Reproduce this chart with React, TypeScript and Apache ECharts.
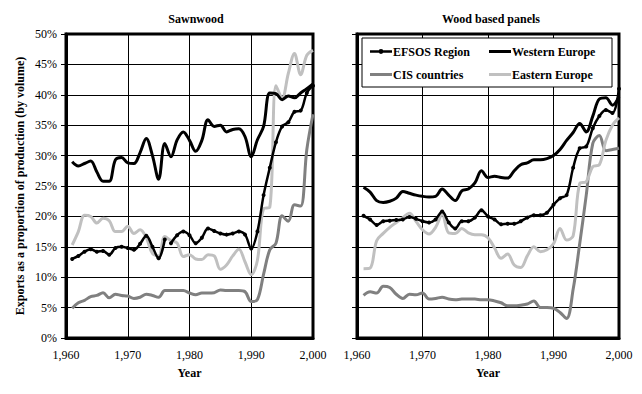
import React, { useEffect, useRef } from "react";
import * as echarts from "echarts";

const years = [
  1961, 1962, 1963, 1964, 1965, 1966, 1967, 1968, 1969, 1970,
  1971, 1972, 1973, 1974, 1975, 1976, 1977, 1978, 1979, 1980,
  1981, 1982, 1983, 1984, 1985, 1986, 1987, 1988, 1989, 1990,
  1991, 1992, 1993, 1994, 1995, 1996, 1997, 1998, 1999, 2000,
];

const seriesNames = ["EFSOS Region", "Western Europe", "CIS countries", "Eastern Europe"];

// Sawnwood
const sawEFSOS = [
  13.0, 13.5, 14.2, 14.6, 14.2, 14.3, 13.7, 14.8, 15.0, 14.8,
  14.5, 15.5, 16.8, 15.0, 13.1, 16.2, 15.6, 16.9, 17.5, 16.9,
  15.6, 16.5, 18.0, 17.6, 17.2, 17.0, 17.2, 17.5, 17.0, 14.7,
  17.5, 23.5, 28.0, 32.2, 34.8, 35.5, 37.2, 37.4, 40.3, 41.5,
];
const sawEFSOSGapAfter = 1976;
const sawWestern = [
  29.0, 28.3, 28.7, 29.1, 27.3, 25.8, 25.8, 29.3, 29.7, 28.8,
  28.7, 30.5, 32.8, 30.0, 26.1, 32.0, 29.8, 32.6, 33.9, 32.5,
  30.7, 32.5, 35.9, 34.8, 35.0, 33.9, 34.3, 34.4, 33.1, 29.8,
  32.6, 34.8, 40.3, 40.2, 39.2, 39.8, 39.5, 40.3, 41.0, 41.8,
];
const sawCIS = [
  4.9, 5.8, 6.2, 6.8, 7.0, 7.45, 6.6, 7.2, 7.0, 6.9,
  6.5, 6.7, 7.2, 7.0, 6.7, 7.8, 7.8, 7.8, 7.8, 7.4,
  7.1, 7.4, 7.4, 7.45, 7.9, 7.8, 7.8, 7.8, 7.6, 6.0,
  6.3, 10.5, 14.5, 15.6, 20.1, 19.2, 21.9, 21.7, 31.0, 36.8,
];
const sawEastern = [
  15.3, 17.5, 20.2, 20.0, 18.9, 19.7, 19.3, 17.5, 17.5, 18.4,
  17.2, 17.8, 16.5, 13.9, 13.5, 16.7, 16.0, 15.6, 13.4, 13.7,
  13.0, 12.9, 13.7, 13.5, 11.3, 12.0, 13.5, 14.6, 12.5, 10.4,
  12.8, 21.3, 21.5, 41.5, 39.5, 43.5, 46.8, 43.3, 46.5, 47.3,
];

// Wood based panels
const panEFSOS = [
  20.1, 19.5, 18.6, 19.2, 19.3, 19.4, 19.5, 19.9, 19.6, 19.2,
  19.0, 19.5, 20.8, 19.0, 18.0, 19.2, 19.2, 19.8, 21.0, 20.0,
  19.5, 18.7, 18.8, 18.8, 19.2, 19.8, 20.2, 20.2, 20.6, 21.9,
  23.0, 23.5, 28.0, 31.2, 31.5, 34.5, 36.5, 37.5, 37.0, 41.0,
];
const panWestern = [
  24.8, 24.0, 22.6, 22.3, 22.5, 23.0, 24.1, 23.8, 23.5, 23.3,
  23.2, 23.3, 24.5, 23.5, 22.6, 24.2, 24.5, 25.5, 27.5, 26.4,
  26.6, 26.4, 26.3, 27.5, 28.5, 28.8, 29.3, 29.3, 29.5, 30.0,
  31.0, 32.5, 33.8, 35.3, 33.9, 36.5, 39.3, 39.5, 38.3, 39.7,
];
const panCIS = [
  7.0, 7.6, 7.4, 8.5, 8.3, 7.2, 6.5, 7.2, 7.1, 7.4,
  6.4, 6.5, 6.7, 6.4, 6.3, 6.4, 6.4, 6.4, 6.3, 6.3,
  6.1, 5.8, 5.3, 5.3, 5.4, 5.6, 6.1, 5.0, 5.0, 4.9,
  4.2, 3.2, 8.0, 15.5, 23.5, 32.0, 33.3, 30.8, 31.0, 31.2,
];
const panEastern = [
  11.4, 11.5, 16.0, 17.2, 18.2, 19.0, 19.8, 20.5, 19.2, 17.8,
  17.1, 18.2, 20.3, 17.3, 17.2, 18.0, 17.3, 17.0, 17.0, 16.5,
  14.8, 13.1, 13.8, 12.0, 11.6, 13.5, 15.0, 14.2, 14.5, 15.5,
  18.0, 16.1, 16.8, 25.4, 25.7, 28.2, 28.5, 32.5, 35.0, 36.2,
];

const panelTitles = ["Sawnwood", "Wood based panels"];
const xTitle = "Year";
const yTitle = "Exports as a proportion of production (by volume)";

const FONT = "Liberation Serif";
const colors = ["#000000", "#000000", "#808080", "#c0c0c0"];

// legend icons: 22x10 boxes (tiny corner squares fix the bounding box)
const ICON_BOX = "M0,0 H0.01 V0.01 H0 Z M22,10 H21.99 V9.99 H22 Z ";
const ICON_LINE = "path://" + ICON_BOX + "M0,3.5 H22 V6.5 H0 Z";
const ICON_LINE_DOT =
  "path://" +
  ICON_BOX +
  "M0,3.8 H9 V6.2 H0 Z M13,3.8 H22 V6.2 H13 Z M8.6,5 A2.4,2.4 0 1,1 13.4,5 A2.4,2.4 0 1,1 8.6,5 Z";

function pairs(vals: number[], gapAfter?: number) {
  const out: any[] = [];
  years.forEach((y, i) => {
    out.push([y, vals[i]]);
    if (gapAfter !== undefined && y === gapAfter) out.push([y + 0.5, "-"]);
  });
  return out;
}

export default function App() {
  const ref = useRef<HTMLDivElement>(null);
  useEffect(() => {
    if (!ref.current) return;
    const chart = echarts.init(ref.current, null, { renderer: "svg" });

    const grids = [
      { left: 66, right: 329, top: 34, bottom: 56 },
      { left: 357, right: 23, top: 34, bottom: 56 },
    ].map((g) => ({
      ...g,
      show: true,
      borderColor: "#000",
      borderWidth: 3,
      backgroundColor: "transparent",
      containLabel: false,
    }));

    const xAxes = [0, 1].map((i) => ({
      type: "value",
      gridIndex: i,
      min: 1960,
      max: 2000,
      interval: 10,
      name: xTitle,
      nameLocation: "middle",
      nameGap: 29,
      nameTextStyle: { fontFamily: FONT, fontSize: 12, fontWeight: "bold", color: "#000" },
      axisLine: { show: true, lineStyle: { color: "#000", width: 3 } },
      axisTick: { show: false },
      axisLabel: { fontFamily: FONT, fontSize: 12, color: "#000", margin: 11 },
      splitLine: { show: true, lineStyle: { color: "#000", width: 1 } },
    }));

    const yAxes = [0, 1].map((i) => ({
      type: "value",
      gridIndex: i,
      min: 0,
      max: 50,
      interval: 5,
      name: i === 0 ? yTitle : "",
      nameLocation: "middle",
      nameGap: 40,
      nameTextStyle: { fontFamily: FONT, fontSize: 12, fontWeight: "bold", color: "#000" },
      axisLine: { show: true, lineStyle: { color: "#000", width: 3 } },
      axisTick: { show: true, inside: false, length: 5, lineStyle: { color: "#000", width: 1 } },
      axisLabel: {
        show: i === 0,
        fontFamily: FONT,
        fontSize: 12,
        color: "#000",
        margin: 9,
        formatter: "{value}%",
      },
      splitLine: { show: true, lineStyle: { color: "#000", width: 1 } },
    }));

    const panels = [
      [sawEFSOS, sawWestern, sawCIS, sawEastern],
      [panEFSOS, panWestern, panCIS, panEastern],
    ];
    const zs = [5, 4, 2, 3];
    const series: any[] = [];
    panels.forEach((vals, p) => {
      vals.forEach((v, k) => {
        const isEfsos = k === 0;
        series.push({
          type: "line",
          name: seriesNames[k],
          xAxisIndex: p,
          yAxisIndex: p,
          data: pairs(v, p === 0 && isEfsos ? sawEFSOSGapAfter : undefined),
          smooth: 0.35,
          connectNulls: false,
          symbol: isEfsos ? "circle" : "none",
          symbolSize: isEfsos ? 4 : 0,
          showSymbol: isEfsos,
          z: zs[k],
          lineStyle: { color: colors[k], width: isEfsos ? 2.5 : 3 },
          itemStyle: { color: colors[k], borderWidth: 0 },
          emphasis: { disabled: true },
        });
      });
    });

    chart.setOption({
      animation: false,
      title: [
        { text: panelTitles[0], left: 191, top: 8, textAlign: "center" },
        { text: panelTitles[1], left: 486, top: 8, textAlign: "center" },
      ].map((t) => ({
        ...t,
        textStyle: { fontFamily: FONT, fontSize: 12, fontWeight: "bold", color: "#000" },
      })),
      legend: {
        data: seriesNames.map((n, k) => ({
          name: n,
          icon: k === 0 ? ICON_LINE_DOT : ICON_LINE,
          itemStyle: { color: colors[k], borderWidth: 0 },
        })),
        left: 362,
        top: 38,
        width: 250,
        orient: "horizontal",
        padding: [2, 4, 1, 8],
        itemGap: 0,
        itemWidth: 22,
        itemHeight: 10,
        backgroundColor: "#fff",
        borderColor: "#000",
        borderWidth: 1,
        borderRadius: 0,
        selectedMode: false,
        textStyle: {
          fontFamily: FONT,
          fontSize: 12,
          fontWeight: "bold",
          color: "#000",
          width: 96,
          lineHeight: 23,
          padding: [0, 0, 0, -4],
        },
      },
      grid: grids,
      xAxis: xAxes,
      yAxis: yAxes,
      series,
    });

    return () => chart.dispose();
  }, []);

  return <div ref={ref} style={{ width: 642, height: 394, position: "absolute", left: 0, top: 0, background: "#fff" }} />;
}
